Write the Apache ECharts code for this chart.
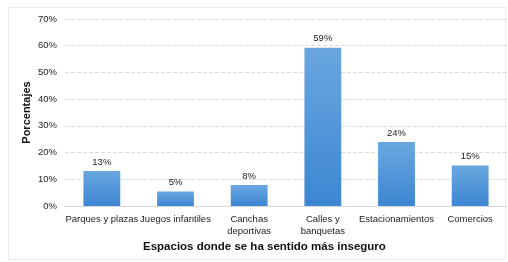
<!DOCTYPE html>
<html><head><meta charset="utf-8">
<script src="https://cdn.jsdelivr.net/npm/echarts@6/dist/echarts.min.js"></script>
<style>html,body{margin:0;padding:0;background:#fff}#c{width:508px;height:262px}</style>
</head><body><div id="c"></div>
<script>
const categories = ["Parques y plazas","Juegos infantiles","Canchas\ndeportivas","Calles y\nbanquetas","Estacionamientos","Comercios"];
const values = [13.1, 5.4, 7.9, 59.2, 24, 15.2];
const yTicks = [0,10,20,30,40,50,60,70];
const yTitle = "Porcentajes";
const xTitle = "Espacios donde se ha sentido más inseguro";

const chart = echarts.init(document.getElementById('c'), null, {renderer:'canvas'});
const font = "'Liberation Sans', Arial, sans-serif";
chart.setOption({
  animation:false,
  textStyle:{fontFamily:font},
  grid:{left:65,right:1,top:19,bottom:56},
  graphic:[
    {type:'rect',shape:{x:8.5,y:7.5,width:497,height:252},style:{fill:'none',stroke:'#ececec',lineWidth:1},silent:true},
    {type:'text',left:143,top:241,style:{text:xTitle,font:"bold 11.5px "+font,fill:'#111'}}
  ],
  xAxis:{type:'category',data:categories,
    axisLine:{lineStyle:{color:'#d9d9d9'}},axisTick:{show:false},
    axisLabel:{color:'#222',fontSize:9.5,margin:7,interval:0,lineHeight:12,fontFamily:font}},
  yAxis:{type:'value',min:yTicks[0],max:yTicks[yTicks.length-1],interval:10,
    name:yTitle,nameLocation:'middle',nameGap:33,nameRotate:90,nameMoveOverlap:false,
    nameTextStyle:{fontWeight:'bold',fontSize:11,color:'#111',fontFamily:font},
    axisLine:{show:false},axisTick:{show:false},
    axisLabel:{formatter:v=>v+'%',color:'#222',fontSize:9.5,margin:8,fontFamily:font},
    splitLine:{lineStyle:{type:'dashed',color:'#dcdcdc'}}},
  series:[{type:'bar',data:values,barWidth:'50%',
    itemStyle:{color:new echarts.graphic.LinearGradient(0,0,0,1,[{offset:0,color:'#6aa7e0'},{offset:1,color:'#3c86d2'}])},
    label:{show:true,position:'top',distance:4,formatter:p=>Math.round(p.value)+'%',color:'#222',fontSize:9.5,fontFamily:font}}]
});
</script></body></html>
